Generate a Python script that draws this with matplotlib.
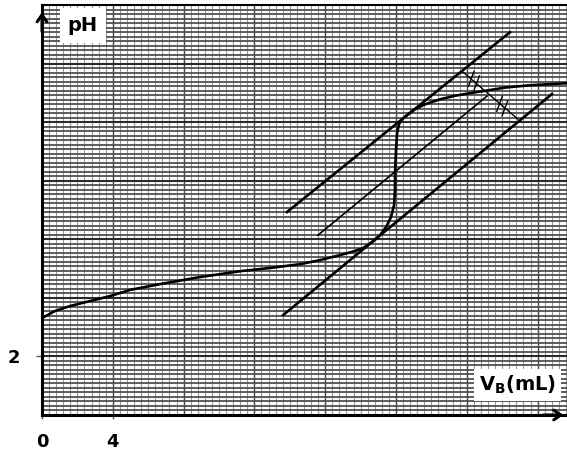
import matplotlib
matplotlib.use("Agg")
import matplotlib.pyplot as plt
import numpy as np

# ---- data ----
volume_ml = [0.0, 0.73, 1.58, 2.71, 3.84, 4.97, 6.67, 8.93, 11.19, 12.88, 14.58, 15.71,
             16.84, 17.68, 18.14, 18.64, 19.10, 19.44, 19.72, 19.89, 19.94, 19.95, 20.00,
             20.06, 20.17, 20.34, 20.68, 21.07, 21.64, 22.49, 23.33, 24.18, 25.14, 26.16,
             27.57, 29.66]
ph_values = [3.31, 3.55, 3.72, 3.89, 4.06, 4.27, 4.47, 4.71, 4.91, 5.02, 5.15, 5.29,
             5.46, 5.60, 5.70, 5.90, 6.14, 6.42, 6.76, 7.17, 7.68, 8.36, 9.04,
             9.62, 9.93, 10.10, 10.27, 10.44, 10.61, 10.78, 10.90, 10.99, 11.08, 11.18,
             11.26, 11.33]

upper_tangent_v = [13.84, 26.44]
upper_tangent_ph = [6.93, 13.07]
middle_line_v = [15.59, 25.14]
middle_line_ph = [6.14, 10.89]
lower_tangent_v = [13.62, 28.81]
lower_tangent_ph = [3.41, 10.96]
perp_segment_v = [23.73, 26.89]
perp_segment_ph = [11.74, 10.10]
hash_mark_v = [24.40, 26.00]
hash_mark_ph = [11.40, 10.55]

x_tick_values = [0, 4]
x_tick_labels = ["0", "4"]
y_tick_values = [2]
y_tick_labels = ["2"]

x_max = 29.66
y_max = 14.0

# ---- figure ----
W, H = 567, 453
fig = plt.figure(figsize=(W / 100, H / 100), dpi=100)
ax_left, ax_right, ax_top, ax_bottom = 42, 567, 5, 415
ax = fig.add_axes([ax_left / W, (H - ax_bottom) / H,
                   (ax_right - ax_left) / W, (ax_bottom - ax_top) / H])
ax.set_xlim(0, x_max)
ax.set_ylim(0, y_max)

# graph paper grid
x_minor = np.arange(0, x_max + 1e-6, 0.4)
y_minor = np.arange(0, y_max + 1e-6, 2 / 13)
ax.vlines(x_minor, 0, y_max, colors="#9a9a9a", lw=0.8, zorder=0)
ax.hlines(y_minor, 0, x_max, colors="#505050", lw=1.3, zorder=0)
ax.vlines(np.arange(4, x_max, 4), 0, y_max, colors="#4a4a4a", lw=1.0, zorder=0.5)
ax.hlines(np.arange(2, y_max, 2), 0, x_max, colors="#2a2a2a", lw=1.5, zorder=0.5)

# titration curve and construction lines
ax.plot(volume_ml, ph_values, color="black", lw=1.9, zorder=3, solid_capstyle="round")
ax.plot(upper_tangent_v, upper_tangent_ph, color="black", lw=1.9, zorder=3)
ax.plot(lower_tangent_v, lower_tangent_ph, color="black", lw=1.9, zorder=3)
ax.plot(middle_line_v, middle_line_ph, color="black", lw=1.2, zorder=3)
ax.plot(perp_segment_v, perp_segment_ph, color="black", lw=1.0, zorder=3)

# hash marks (equal-length ticks) on the perpendicular segment
px_x = x_max / (ax_right - ax_left)
px_y = y_max / (ax_bottom - ax_top)
for hv, hp in zip(hash_mark_v, hash_mark_ph):
    for off in (-3.5, 3.5):
        cx = hv + off * 0.76 * px_x
        cy = hp - off * 0.65 * px_y
        dx, dy = 8 * 0.35 * px_x, 8 * 0.94 * px_y
        ax.plot([cx - dx, cx + dx], [cy - dy, cy + dy], color="black", lw=1.0, zorder=3)

# spines / ticks
ax.spines["right"].set_visible(False)
ax.spines["top"].set_linewidth(1.5)
ax.spines["left"].set_linewidth(2.2)
ax.spines["bottom"].set_linewidth(2.2)
ax.set_xticks(x_tick_values)
ax.set_xticklabels(x_tick_labels, fontsize=13, fontweight="bold")
ax.set_yticks(y_tick_values)
ax.set_yticklabels(y_tick_labels, fontsize=13, fontweight="bold")
ax.tick_params(axis="x", length=3, width=1, pad=10, color="#555555")
ax.tick_params(axis="y", length=4, width=1, pad=12, color="#555555")

# axis arrows
ax.annotate("", xy=(0, 13.85), xytext=(0, 13.0), xycoords="data",
            arrowprops=dict(arrowstyle="->,head_length=0.5,head_width=0.35", lw=2.2, color="black"),
            annotation_clip=False, zorder=5)
ax.annotate("", xy=(x_max - 0.05, 0), xytext=(x_max - 1.5, 0), xycoords="data",
            arrowprops=dict(arrowstyle="->,head_length=0.5,head_width=0.35", lw=2.2, color="black"),
            annotation_clip=False, zorder=5)

# axis titles in white boxes
ax.text(2.3, 13.3, "pH", fontsize=14, fontweight="bold", ha="center", va="center",
        bbox=dict(facecolor="white", edgecolor="none", boxstyle="square,pad=0.4"), zorder=6)
plt.rcParams["mathtext.fontset"] = "dejavusans"
ax.text(26.85, 1.02, r"$\mathbf{V}_{\mathbf{B}}\mathbf{(mL)}$", fontsize=14, ha="center", va="center",
        bbox=dict(facecolor="white", edgecolor="none", boxstyle="square,pad=0.25"), zorder=6)

fig.savefig("out.png", dpi=100)
